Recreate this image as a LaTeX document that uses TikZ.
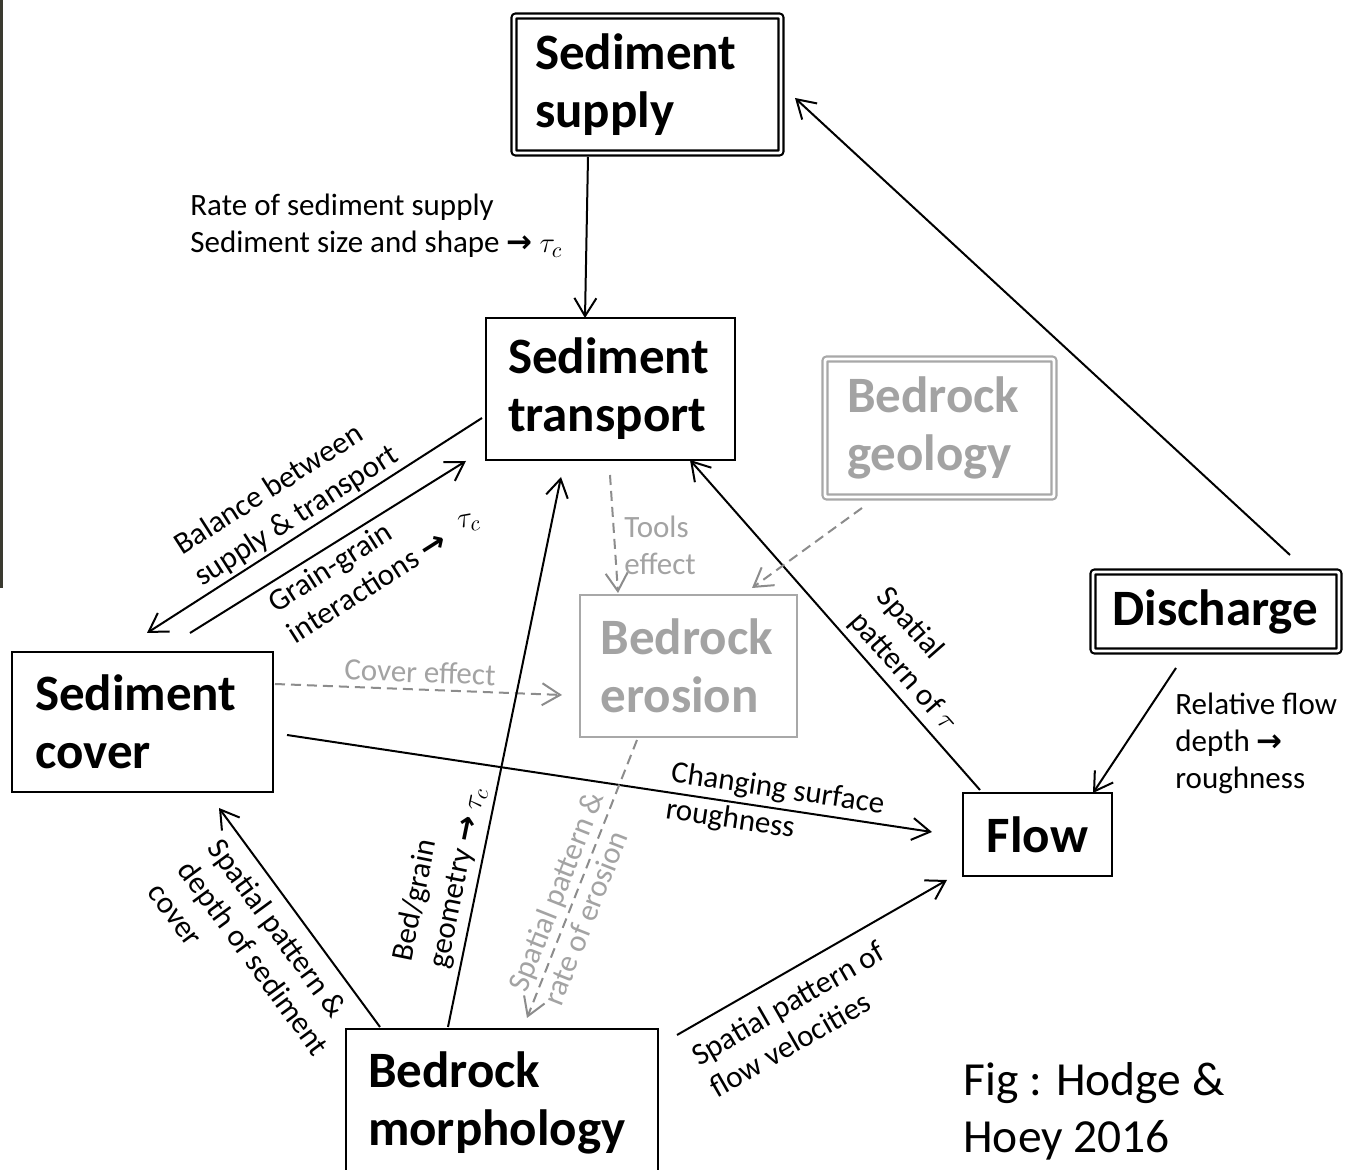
\documentclass[tikz,border=0pt]{standalone}
\usepackage{fontspec}
\setmainfont{Carlito}
\newfontfamily\arrowfont{DejaVu Sans}
\usetikzlibrary{arrows.meta,calc}
\newcommand{\rarr}{{\arrowfont\bfseries →}}
\newcommand{\titlefont}{\fontsize{25.5}{29}\selectfont\bfseries}
\newcommand{\labfont}{\fontsize{15.5}{18.5}\selectfont}
\newcommand{\capfont}{\fontsize{23.75}{28.5}\selectfont}
\definecolor{graytext}{HTML}{A3A3A3}
\definecolor{boxgray}{HTML}{A8A8A8}
\definecolor{dashgray}{HTML}{8C8C8C}
\definecolor{edgestrip}{HTML}{3A3A30}
\begin{document}
\begin{tikzpicture}[x=0.5pt,y=-0.5pt,
  box/.style={draw, line width=0.9pt, inner sep=0pt, outer sep=0pt, align=left, font=\titlefont},
  dbox/.style={box, line width=1.1pt, double, double distance=1.4pt, rounded corners=1pt},
  conn/.style={line width=1pt, -{Straight Barb[length=9pt,width=11pt,line width=1pt]}},
  dconn/.style={conn, draw=dashgray, dash pattern=on 5pt off 3pt},
  lab/.style={font=\labfont, align=left, inner sep=0pt},
  glab/.style={lab, text=graytext}]
\useasboundingbox (0,0) rectangle (1346,1170);
\clip (0,0) rectangle (1346,1170);
\fill[white] (0,0) rectangle (1346,1170);
\fill[edgestrip] (0,0) rectangle (3,588);

% boxes
\node[dbox, minimum width=133.5pt, minimum height=68.5pt, text width=112.5pt] (supply) at (647.5,84.5) {Sediment\\supply};
\node[box, minimum width=124.5pt, minimum height=71pt, text width=102.5pt] (transport) at (610.5,389) {Sediment\\transport};
\node[dbox, draw=boxgray, text=graytext, minimum width=114.5pt, minimum height=69pt, text width=92.5pt] (geology) at (939.5,428) {Bedrock\\geology};
\node[box, draw=boxgray, text=graytext, minimum width=108.5pt, minimum height=71pt, text width=88pt] (erosion) at (688.5,666) {Bedrock\\erosion};
\node[box, minimum width=130.5pt, minimum height=70pt, text width=107.5pt] (cover) at (142.5,722) {Sediment\\cover};
\node[dbox, minimum width=123pt, minimum height=39.5pt, text width=103.5pt] (discharge) at (1216,611.5) {Discharge};
\node[box, minimum width=74.5pt, minimum height=41.5pt, align=center] (flow) at (1037.5,834.5) {Flow};
\node[box, minimum width=156pt, minimum height=73.5pt, text width=134pt] (morph) at (502,1102.5) {Bedrock\\morphology};

% connectors
\draw[conn] ($(supply.center)+(-59.5,72.5)$) -- ($(transport.center)+(-25.5,-71)$);
\draw[conn] ($(discharge.center)+(74,-56.5)$) -- ($(supply.center)+(147.5,13.5)$);
\draw[conn] ($(discharge.center)+(-40,56.5)$) -- ($(flow.center)+(55.5,-41.5)$);
\draw[conn] ($(flow.center)+(-57.5,-44.5)$) -- ($(transport.center)+(79.5,71)$);
\draw[conn] ($(transport.center)+(-128.5,29)$) -- ($(cover.center)+(4.5,-89)$);
\draw[conn] ($(cover.center)+(47.5,-89)$) -- ($(transport.center)+(-144.5,72)$);
\draw[conn] ($(cover.center)+(144.5,13)$) -- ($(flow.center)+(-105.5,-2.5)$);
\draw[dconn] ($(cover.center)+(132.5,-38)$) -- ($(erosion.center)+(-126.5,29)$);
\draw[dconn] ($(transport.center)+(-0.5,86)$) -- ($(erosion.center)+(-70.5,-73)$);
\draw[dconn] ($(geology.center)+(-77.5,80)$) -- ($(erosion.center)+(63.5,-78)$);
\draw[dconn] ($(erosion.center)+(-51.5,74)$) -- ($(morph.center)+(25,-84.5)$);
\draw[conn] ($(morph.center)+(-54,-75.5)$) -- ($(transport.center)+(-49.5,88)$);
\draw[conn] ($(morph.center)+(-122,-75.5)$) -- ($(cover.center)+(76.5,86)$);
\draw[conn] ($(morph.center)+(175,-67.5)$) -- ($(flow.center)+(-90.5,45.5)$);

% labels
\node[lab, anchor=west] (lsupply) at (190,226) {Rate of sediment supply\\Sediment size and shape \rarr\ $\tau_c$};
\node[lab, anchor=west] (ldischarge) at (1175,743) {Relative flow\\depth \rarr\\roughness};
\node[lab, rotate=-48.7] (lflowtr) at (917,660) {Spatial\\pattern of $\tau$};
\node[lab, rotate=32.7] (lbalance) at (287,501) {Balance between\\supply \& transport};
\node[lab, rotate=32.5] (lgrain) at (357,571) {Grain-grain\\interactions \rarr};
\node[lab, rotate=10] (lgraintau) at (469,523) {$\tau_c$};
\node[lab, rotate=-8.5] (lrough) at (775,808) {Changing surface\\roughness};
\node[glab, rotate=-2.2] (lcover) at (420,672) {Cover effect};
\node[glab, anchor=west] (ltools) at (624,545) {Tools\\effect};
\node[glab, rotate=68.4] (lerosion) at (573,898) {Spatial pattern \&\\rate of erosion};
\node[lab, rotate=78.4] (lbed) at (440,874) {Bed/grain\\geometry \rarr\ $\tau_c$};
\node[lab, rotate=-53.7] (lcoverdepth) at (254,958) {Spatial pattern \&\\depth of sediment\\cover};
\node[lab, rotate=29.9] (lvel) at (797,1019) {Spatial pattern of\\flow velocities};
\node[font=\capfont, align=left, inner sep=0pt, anchor=west] (caption) at (963,1111) {Fig : Hodge \&\\Hoey 2016};
\end{tikzpicture}
\end{document}
